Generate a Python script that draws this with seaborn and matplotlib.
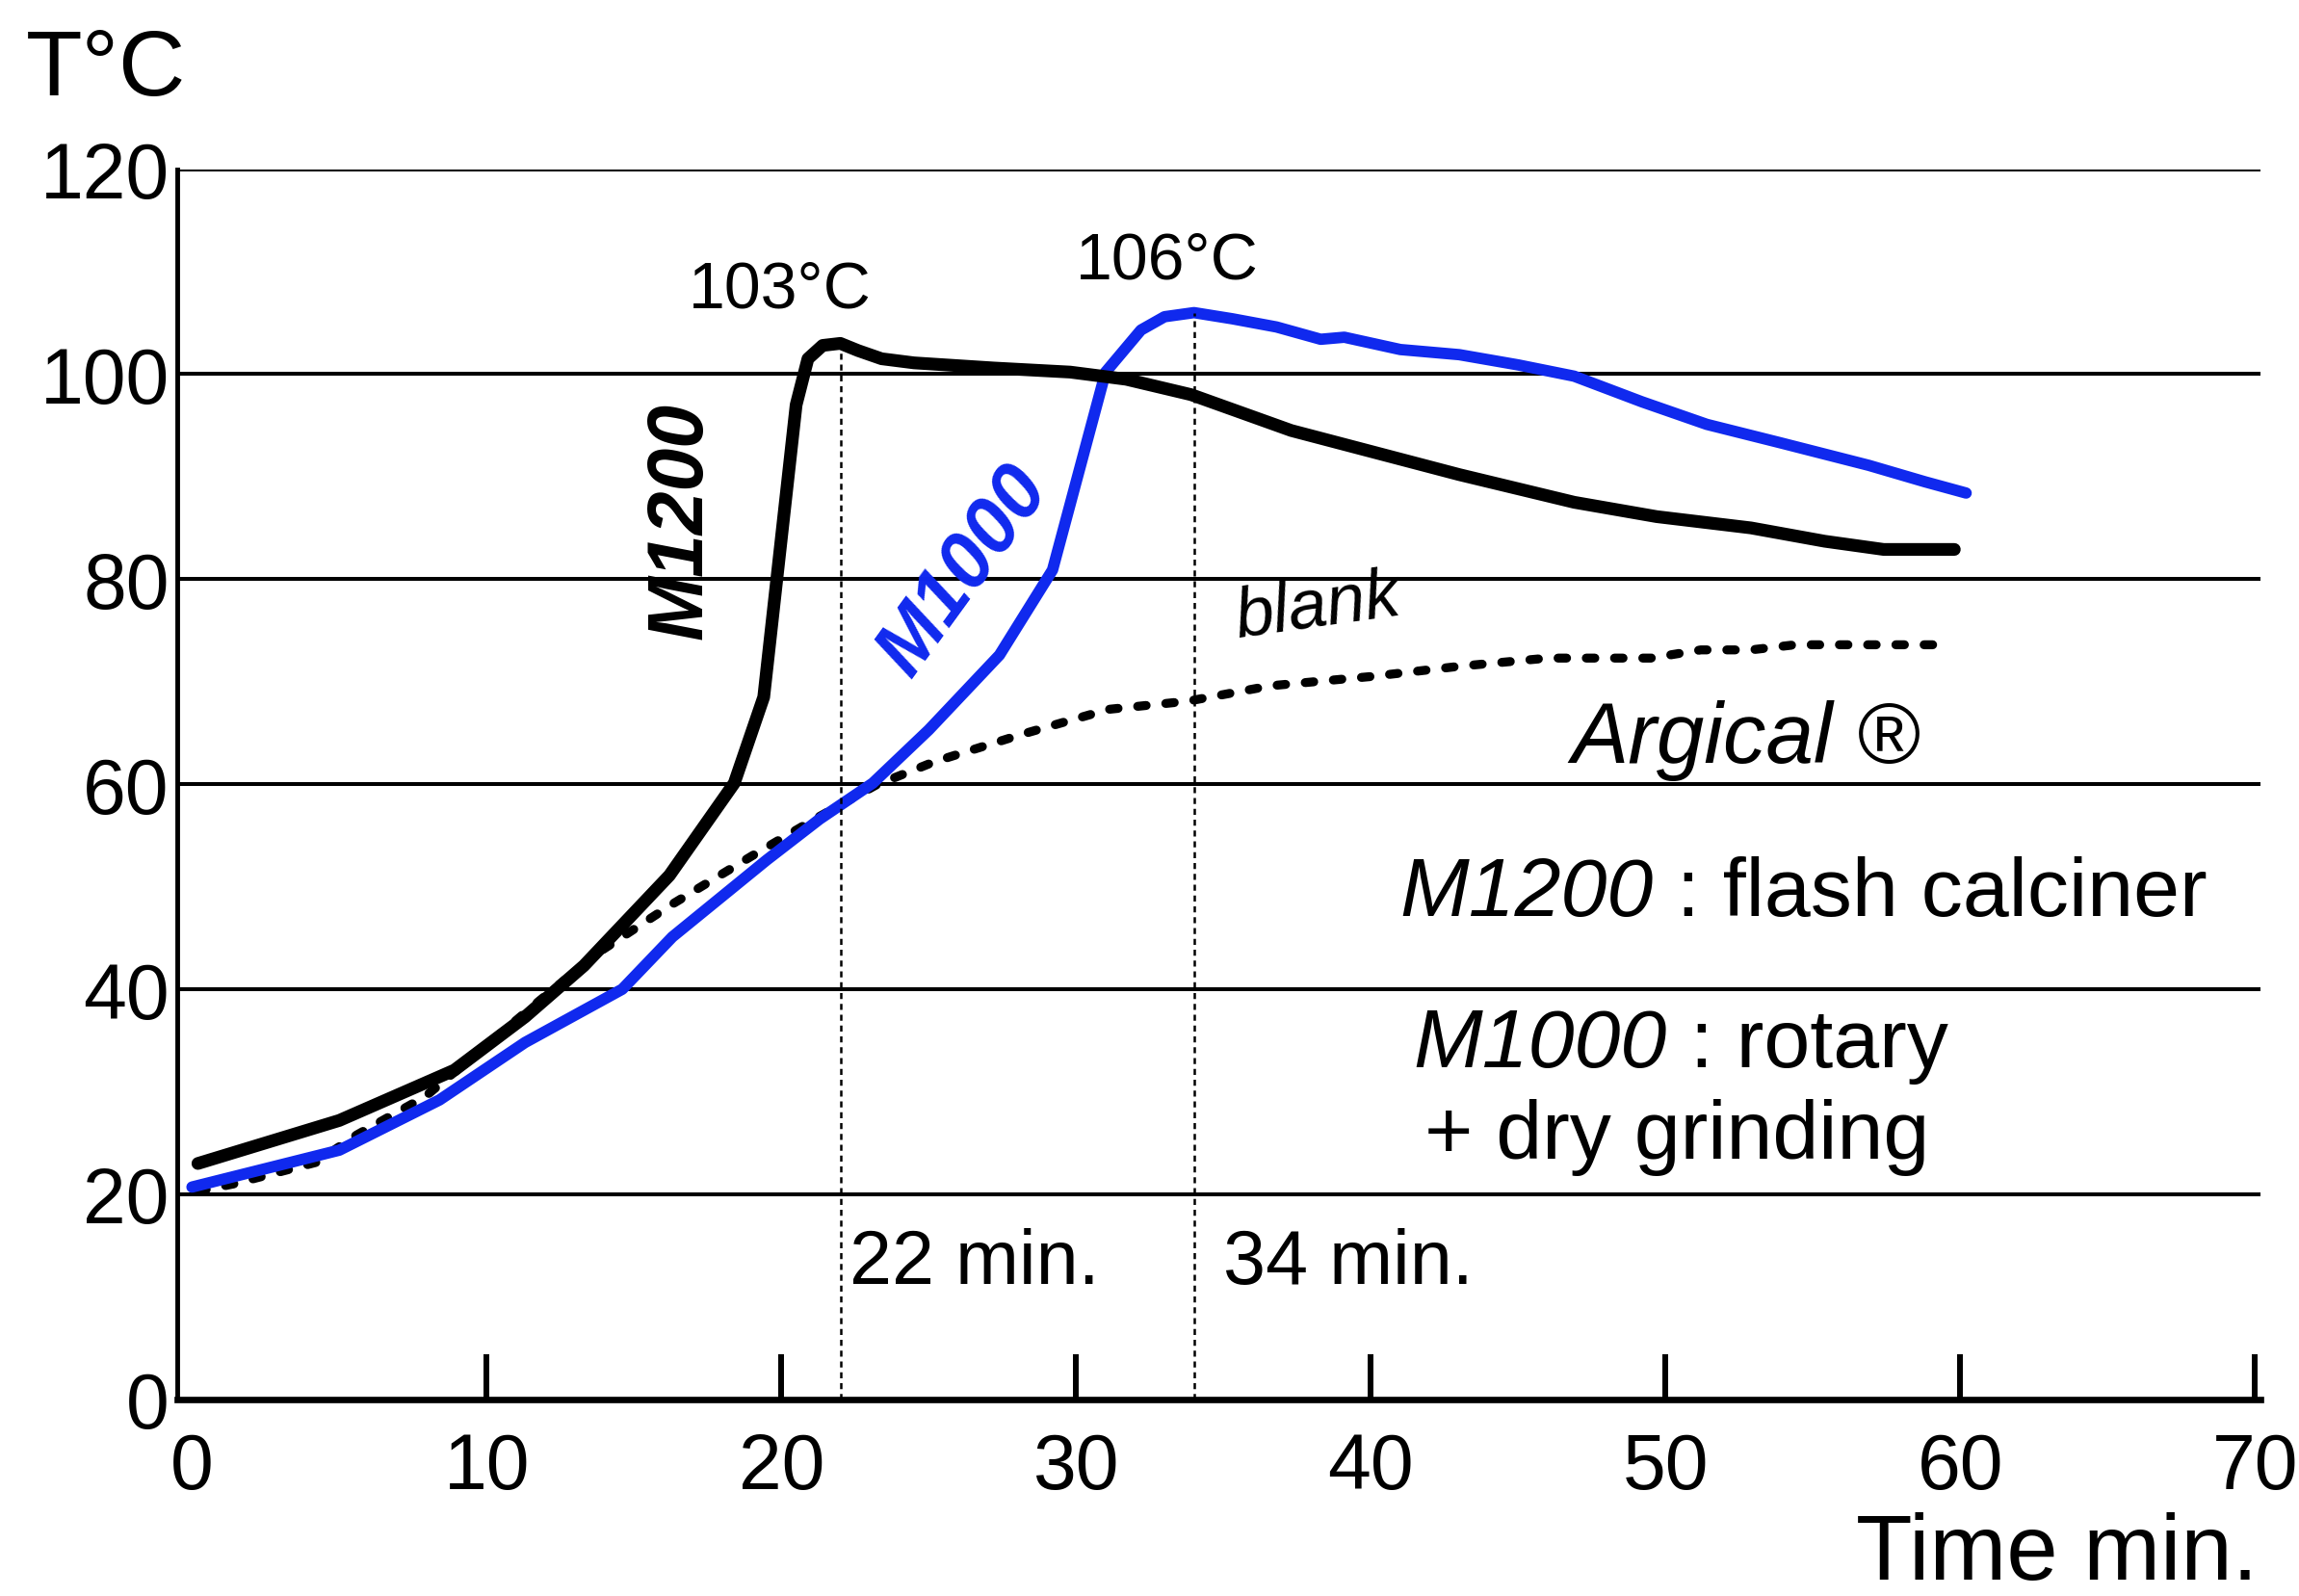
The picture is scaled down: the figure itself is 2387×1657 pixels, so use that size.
import matplotlib
matplotlib.use("Agg")
import matplotlib.pyplot as plt
import seaborn as sns
from matplotlib import font_manager

# Temperature rise of the lime/metakaolin pastes (time in min, temperature in °C)
m1200_time = [0.2, 5.0, 8.9, 11.3, 13.3, 16.2, 18.4, 19.4, 20.5, 20.9, 21.4, 22.0, 22.6,
              23.4, 24.5, 27.2, 29.8, 31.7, 33.9, 37.3, 43.0, 46.9, 49.7, 52.9, 55.4, 57.4, 59.8]
m1200_temp = [23.0, 27.2, 32.1, 37.3, 42.3, 51.1, 60.1, 68.5, 97.0, 101.5, 102.8, 103.0, 102.3,
              101.5, 101.1, 100.6, 100.2, 99.5, 98.0, 94.5, 90.2, 87.5, 86.1, 85.0, 83.7, 82.9, 82.9]

m1000_time = [0.0, 5.0, 8.4, 11.3, 14.6, 16.3, 19.5, 21.3, 23.1, 25.0, 27.4, 29.2, 31.0, 32.2,
              33.0, 34.0, 35.3, 36.8, 38.3, 39.1, 41.0, 43.0, 45.0, 46.9, 49.2, 51.4, 53.9,
              56.9, 58.8, 60.2]
m1000_temp = [20.7, 24.3, 29.2, 34.8, 40.0, 45.1, 52.6, 56.6, 60.1, 65.3, 72.6, 80.9, 100.2, 104.3,
              105.6, 106.0, 105.4, 104.6, 103.4, 103.6, 102.4, 101.9, 100.9, 99.8, 97.3, 95.1, 93.3,
              91.1, 89.5, 88.4]

blank_time = [0.2, 1.4, 4.2, 5.6, 7.9, 9.9, 11.8, 13.8, 16.3, 19.0, 21.2, 23.2, 25.2, 28.2,
              31.1, 33.8, 36.6, 40.0, 43.0, 46.0, 49.5, 51.2, 52.9, 54.4, 59.6]
blank_temp = [20.3, 21.0, 23.1, 25.8, 29.5, 34.3, 38.9, 43.6, 48.3, 53.0, 56.7, 59.9, 62.2, 64.9,
              67.3, 68.1, 69.6, 70.5, 71.5, 72.3, 72.3, 73.1, 73.1, 73.6, 73.6]

peak_time = [22, 34]
peak_temp = [103, 106]

x_ticks = [0, 10, 20, 30, 40, 50, 60, 70]
y_ticks = [0, 20, 40, 60, 80, 100, 120]

BLUE = "#1029EE"

sns.set_style("white")
available = {f.name for f in font_manager.fontManager.ttflist}
family = next((f for f in ["Liberation Sans Narrow", "Liberation Sans", "DejaVu Sans"]
               if f in available))
plt.rcParams["font.family"] = [family, "DejaVu Sans"]
for key in ["text.color", "axes.labelcolor", "xtick.color", "ytick.color", "axes.edgecolor"]:
    plt.rcParams[key] = "black"

fig = plt.figure(figsize=(23.87, 16.58), dpi=100)
ax = fig.add_axes([0.0771, 0.1232, 0.9063, 0.7703])

# horizontal reference lines
ax.set_yticks(y_ticks)
ax.grid(axis="y", color="black", linewidth=2.9)
ax.grid(axis="x", visible=False)
ax.set_axisbelow(True)

# curves
sns.lineplot(x=blank_time, y=blank_temp, ax=ax, sort=False, estimator=None, color="black",
             linewidth=6.7, linestyle=(0, (0.95, 2.2)), dash_capstyle="round")
sns.lineplot(x=m1000_time, y=m1000_temp, ax=ax, sort=False, estimator=None, color=BLUE,
             linewidth=8.5, solid_joinstyle="round", solid_capstyle="round")
sns.lineplot(x=m1200_time, y=m1200_temp, ax=ax, sort=False, estimator=None, color="black",
             linewidth=9.5, solid_joinstyle="round", solid_capstyle="round")

# peak markers
ax.vlines(peak_time, 0, peak_temp, colors="black", linewidth=1.8, linestyles=(0, (2.5, 2.0)))
peak_label_pos = [(-2.05, 106.6), (-0.9, 109.4)]
time_label_dx = [0.3, 1.0]
for t, v, (dx, yl), tdx in zip(peak_time, peak_temp, peak_label_pos, time_label_dx):
    ax.text(t + dx, yl, f"{v}°C", fontsize=49, ha="center", va="baseline")
    ax.text(t + tdx, 11.3, f"{t} min.", fontsize=57, ha="left", va="baseline")

# series annotations
ax.text(16.6, 85.8, "M1200", fontsize=58, fontweight="bold", style="italic",
        rotation=90, ha="center", va="center", color="black")
ax.text(26.2, 80.8, "M1000", fontsize=58, fontweight="bold", style="italic",
        rotation=54, ha="center", va="center", color=BLUE)
ax.text(38.2, 77.3, "blank", fontsize=52, style="italic", rotation=8,
        ha="center", va="center")
ax.text(52.7, 62.2, "Argical ®", fontsize=64, style="italic", ha="center", va="baseline")

# legend-like notes: italic product name followed by its description
notes = [(49.6, 47.2, "M1200", " : flash calciner"),
         (50.05, 32.5, "M1000", " : rotary")]
for xs, yb, name, desc in notes:
    ax.text(xs, yb, name, fontsize=62, style="italic", ha="right", va="baseline")
    ax.text(xs, yb, desc, fontsize=62, ha="left", va="baseline")
ax.text(50.4, 23.6, "+ dry grinding", fontsize=62, ha="center", va="baseline")

# axes
ax.set_xlim(-0.5, 70.2)
ax.set_ylim(0, 120)
ax.set_xticks(x_ticks)
ax.set_xticklabels([str(v) for v in x_ticks])
ax.set_yticklabels([str(v) for v in y_ticks])
ax.tick_params(axis="x", direction="in", length=34, width=4.3, color="black",
               labelsize=58, pad=24, bottom=True)
ax.xaxis.get_major_ticks()[0].tick1line.set_visible(False)
ax.tick_params(axis="y", length=0, labelsize=58, pad=6, left=False)
for side in ["top", "right"]:
    ax.spines[side].set_visible(False)
ax.spines["left"].set_linewidth(3.5)
ax.spines["bottom"].set_linewidth(4.8)
ax.set_xlabel("")
ax.set_ylabel("")

fig.text(27 / 2387, 0.940, "T°C", fontsize=69, ha="left", va="baseline")
fig.text(0.982, 0.011, "Time min.", fontsize=69, ha="right", va="baseline")

fig.savefig("out.png", dpi=100, facecolor="white")
